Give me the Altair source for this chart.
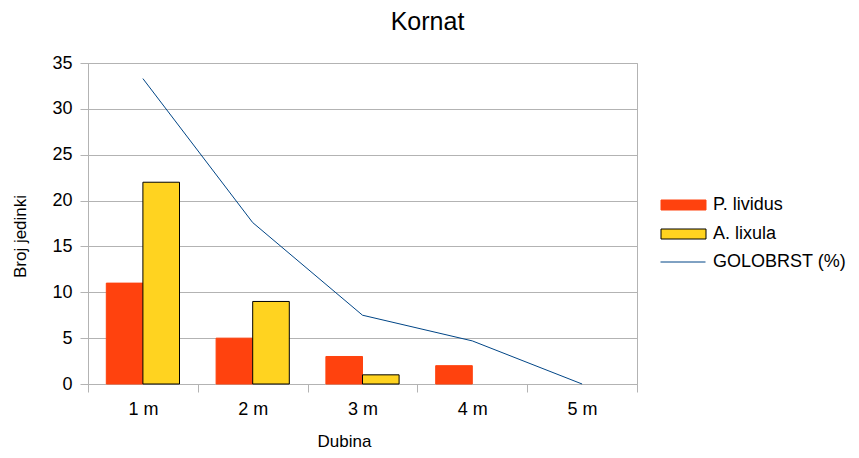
import altair as alt
import pandas as pd

categories = ["1 m", "2 m", "3 m", "4 m", "5 m"]
series = ["P. lividus", "A. lixula"]
p_lividus = [11, 5, 3, 2, 0]
a_lixula = [22, 9, 1, 0, 0]
line_name = "GOLOBRST (%)"
golobrst = [33.3, 17.6, 7.5, 4.7, 0]
y_ticks = [0, 5, 10, 15, 20, 25, 30, 35]

bars_df = pd.DataFrame({
    "Dubina": categories * 2,
    "series": [series[0]] * len(categories) + [series[1]] * len(categories),
    "value": p_lividus + a_lixula,
})
line_df = pd.DataFrame({
    "Dubina": categories,
    "value": golobrst,
    "name": [line_name] * len(categories),
})

FONT = "Liberation Sans"
GRID = "#b3b3b3"

x_axis = alt.Axis(
    title="Dubina", labelAngle=0, tickBand="extent", tickSize=8,
    labelPadding=8, labelFontSize=18, titleFontSize=17,
    titleX=256, titleY=62, titleAlign="center", titleBaseline="alphabetic",
)
x_enc = alt.X("Dubina:N", sort=categories,
              scale=alt.Scale(domain=categories, paddingInner=0, paddingOuter=0),
              axis=x_axis)
y_enc = alt.Y("value:Q", scale=alt.Scale(domain=[0, 35], nice=False),
              axis=alt.Axis(title="Broj jedinki", values=y_ticks, tickSize=8,
                            labelPadding=8, labelFontSize=18, titleFontSize=17,
                            grid=True, titleX=-63, titleY=173,
                            titleBaseline="alphabetic", titleAlign="center"))

bar_legend = alt.Legend(
    title=None, orient="none", legendX=586.5, legendY=133,
    symbolType="M-4.5,-1H4.5V1H-4.5Z", symbolSize=100, symbolStrokeWidth=1,
    labelFontSize=18, labelFont=FONT, labelColor="#000000", labelOffset=20.5,
    rowPadding=11, padding=0,
)

bars = alt.Chart(bars_df).transform_filter("datum.value > 0").mark_bar(strokeWidth=1).encode(
    x=x_enc,
    y=y_enc,
    xOffset=alt.XOffset("series:N", sort=series,
                        scale=alt.Scale(domain=series, paddingInner=0, paddingOuter=0.5)),
    fill=alt.Fill("series:N", sort=series,
                  scale=alt.Scale(domain=series, range=["#FF420E", "#FFD320"]),
                  legend=bar_legend),
    stroke=alt.Stroke("series:N", sort=series,
                      scale=alt.Scale(domain=series, range=["#FF420E", "#000000"]),
                      legend=bar_legend),
)

line = alt.Chart(line_df).mark_line(strokeWidth=1).encode(
    x=x_enc,
    y=y_enc,
    color=alt.Color("name:N", scale=alt.Scale(domain=[line_name], range=["#004586"]),
                    legend=alt.Legend(
                        title=None, orient="none", legendX=572, legendY=176,
                        symbolType="stroke", symbolSize=2025, symbolStrokeWidth=1,
                        labelFontSize=18, labelFont=FONT, labelColor="#000000",
                        labelOffset=7, padding=0, labelLimit=300)),
)

chart = alt.layer(bars, line).properties(
    width=549,
    height=321,
    autosize=alt.AutoSizeParams(type="none"),
    padding={"left": 80, "top": 55, "right": 214, "bottom": 66},
    title=alt.Title("Kornat", fontSize=25, font=FONT, fontWeight="normal",
                    color="#000000", anchor="middle", dx=65, offset=19),
).configure_view(
    stroke=GRID, strokeWidth=1,
).configure_axis(
    gridColor=GRID, domainColor=GRID, tickColor=GRID,
    labelFont=FONT, titleFont=FONT, labelColor="#000000", titleColor="#000000",
    titleFontWeight="normal",
).configure_axisX(grid=False)

chart.save("out.html", embed_options={"renderer": "svg", "actions": False})
